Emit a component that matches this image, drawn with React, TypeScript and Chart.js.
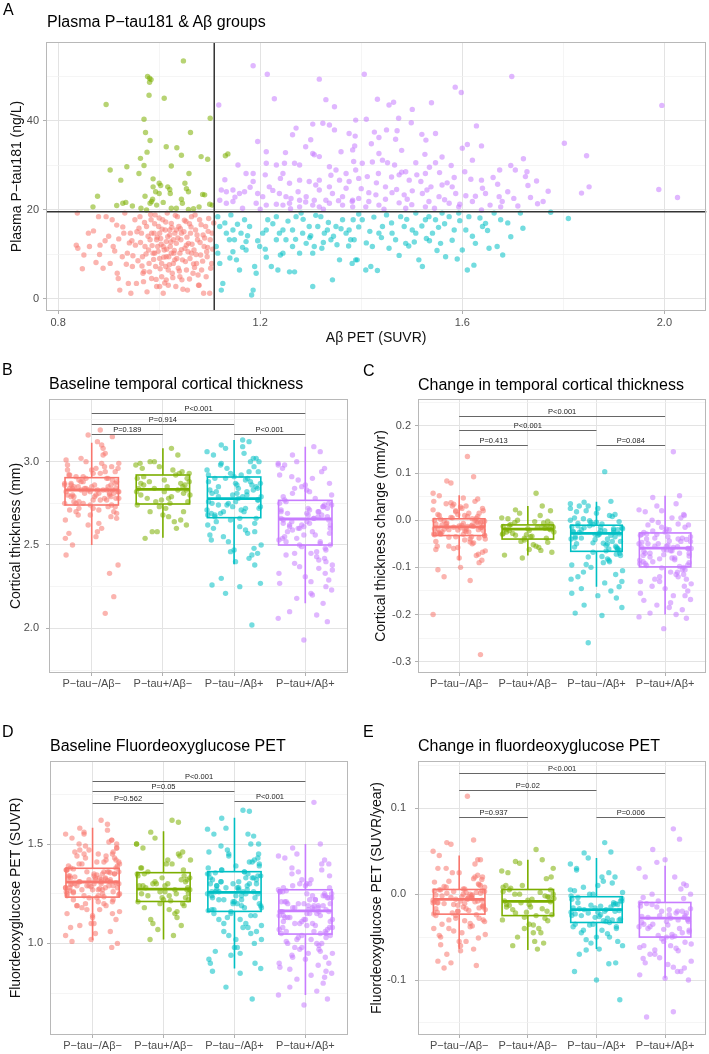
import React, { useEffect, useRef } from 'react';
import { Chart, registerables } from 'chart.js';

Chart.register(...registerables);

// ---------------- shared ----------------
const GROUPS = ['P−tau−/Aβ−', 'P−tau+/Aβ−', 'P−tau−/Aβ+', 'P−tau+/Aβ+'];
const COLORS = ['#F8766D', '#7CAE00', '#00BFC4', '#C77CFF'];
const POINT_ALPHA = 0.55;
const FONT = "'Liberation Sans', Arial, sans-serif";
const JITTER = [0.12, -0.27, 0.33, -0.05, 0.21, -0.36, 0.02, 0.29, -0.18, 0.37, -0.31, 0.08, -0.12, 0.25, -0.22, 0.16, -0.38, 0.31, -0.02, 0.19, -0.29, 0.06, 0.35, -0.15, 0.27, -0.34, 0.1, -0.08, 0.23, -0.25, 0.14, 0.38, -0.19, 0.04, -0.32, 0.28, -0.1, 0.18, -0.37, 0.0, 0.34];

// ---------------- Panel A data: [Aβ PET SUVR, P-tau181 ng/L] ----------------
const A_RED: number[][] = [
  [0.838, 19.3], [0.836, 12.1], [0.839, 11.4], [0.851, 9.9], [0.862, 11.8], [0.88, 18.5], [0.882, 10], [0.883, 12.1], [0.889, 6.9], [0.895, 18.5],
  [0.903, 8], [0.907, 17.8], [0.909, 11.8], [0.916, 16.6], [0.917, 5.8], [0.919, 4.6], [0.922, 2], [0.927, 9.5], [0.93, 14.8], [0.932, 19.3],
  [0.937, 10.3], [0.939, 3.5], [0.943, 14.8], [0.944, 1.3], [0.947, 7.3], [0.952, 17.8], [0.953, 12.1], [0.955, 3.5], [0.962, 18.5], [0.965, 14.8],
  [0.967, 9.5], [0.968, 5.8], [0.972, 11.8], [0.975, 16.3], [0.976, 1.6], [0.98, 8], [0.982, 13.3], [0.984, 17.8], [0.985, 4.6], [0.988, 10.3],
  [0.99, 14.8], [0.992, 18.9], [0.993, 7.3], [0.995, 2.8], [0.997, 11.8], [0.999, 16.3], [1.001, 9.1], [1.003, 13.6], [1.005, 5], [1.007, 17.8],
  [1.008, 1.3], [1.01, 11], [1.012, 15.5], [1.013, 7.3], [1.014, 12.9], [1.016, 19.3], [1.018, 3.1], [1.019, 9.5], [1.021, 14.4], [1.022, 11.8],
  [1.024, 17], [1.026, 5.8], [1.028, 8], [1.029, 10.3], [1.031, 14.8], [1.033, 2.8], [1.034, 12.5], [1.036, 18.5], [1.038, 6.9], [1.039, 16.3],
  [1.041, 10.3], [1.043, 13.3], [1.045, 4.3], [1.046, 8.8], [1.049, 15.1], [1.051, 11.4], [1.053, 17.4], [1.054, 6.5], [1.056, 2], [1.058, 12.5],
  [1.061, 9.1], [1.062, 14.8], [1.064, 18.5], [1.067, 5.8], [1.069, 11], [1.072, 15.5], [1.074, 8], [1.076, 13.3], [1.078, 3.1], [1.08, 17.8],
  [1.082, 9.9], [1.084, 6.5], [1.087, 14.4], [1.089, 11.8], [1.092, 16.3], [1.093, 5], [1.095, 9.5], [1.098, 18.1], [1.1, 1.3], [1.101, 13.3],
  [1.104, 8], [1.105, 14.8], [1.088, 1.3], [1.079, 3.1], [0.995, 13.3], [1.001, 14.8], [1.008, 11.8], [1.014, 9.5], [1.021, 15.5], [1.028, 13.3],
  [1.034, 15.5], [1.044, 14.8], [0.991, 10.3], [1.005, 8], [1.018, 6.5], [1.031, 8.8], [0.985, 14.8], [0.979, 11], [1.024, 10.3], [1.054, 12.1],
  [1.064, 10.3], [1.041, 5], [1.014, 4.3], [1.001, 2.8], [0.958, 8.6], [0.97, 6.2], [1.06, 16.9], [1.07, 7.1], [1.096, 11.6], [0.946, 13.1],
  [0.96, 15.9], [0.963, 12.7], [0.966, 7.4], [0.969, 3.9], [0.971, 17.2], [0.974, 10.1], [0.978, 14.1], [0.981, 6.1], [0.983, 19.0], [0.986, 12.0],
  [0.989, 8.9], [0.991, 16.9], [0.994, 4.4], [0.996, 13.9], [0.998, 10.7], [1.0, 18.2], [1.002, 6.8], [1.004, 12.3], [1.006, 15.7], [1.009, 9.4],
  [1.011, 3.6], [1.013, 17.3], [1.015, 11.2], [1.017, 14.0], [1.02, 7.7], [1.023, 12.8], [1.025, 16.1], [1.027, 4.8], [1.03, 10.9], [1.032, 18.8],
  [1.035, 9.1], [1.037, 13.7], [1.04, 6.3], [1.042, 15.8], [1.044, 11.1], [1.047, 2.2], [1.05, 17.7], [1.052, 8.4], [1.055, 13.9], [1.057, 10.6],
  [1.06, 4.5], [1.063, 16.2], [1.065, 12.3], [1.068, 7.9], [1.071, 18.9], [1.073, 10.0], [1.075, 14.4], [1.077, 5.4], [1.081, 12.7], [1.083, 16.7],
  [1.086, 8.5], [1.09, 13.7], [1.094, 10.6], [1.097, 15.2], [1.102, 6.9], [1.106, 11.2], [1.108, 17.1], [0.92, 13.5], [0.928, 16.2], [0.935, 7.8],
  [0.941, 12.6], [0.948, 9.7], [0.956, 15.1], [0.9, 14.1], [0.912, 10.8], [0.87, 15.3], [0.875, 8.2], [0.893, 13.1], [0.86, 14.8], [0.848, 6.8],
];
const A_GREEN: number[][] = [
  [1.048, 53.5], [0.977, 50], [0.981, 49.6], [0.984, 49.3], [0.981, 48.7], [0.895, 43.7], [1.01, 45.1], [0.98, 45.8], [1.101, 40.6], [0.97, 40.4],
  [0.973, 37.4], [1.062, 37.4], [0.982, 35.6], [1.014, 34.2], [1.035, 34], [1.136, 32.6], [1.131, 32.2], [0.976, 33], [1.044, 32.3], [1.083, 32],
  [1.096, 31.4], [0.963, 31.6], [1.024, 29.9], [0.936, 29.7], [0.903, 29], [0.97, 30], [1.059, 28.2], [0.96, 28.2], [0.924, 26.7], [0.988, 27],
  [1.0, 26], [1.003, 25.5], [1.017, 25.2], [1.051, 26], [0.988, 25.2], [0.993, 24.1], [1.021, 24.6], [1.022, 23.7], [1.054, 24.8], [1.058, 24.1],
  [0.878, 23.1], [0.972, 23.1], [1.0, 23.7], [0.987, 22.4], [1.044, 22.4], [1.046, 21.5], [1.086, 23.5], [1.09, 23.4], [0.928, 21.5], [0.934, 21.7],
  [0.947, 20.9], [0.982, 21.5], [0.985, 21.9], [0.995, 21.1], [1.008, 21.7], [1.024, 20.4], [1.034, 20.4], [1.058, 20.1], [1.068, 20.3], [1.1, 21.3],
  [1.105, 21.1], [0.869, 20.7], [0.916, 21], [0.964, 20.4], [0.975, 20], [1.079, 20.7],
];
const A_CYAN: number[][] = [
  [1.116, 18.5], [1.12, 16.3], [1.113, 11.8], [1.116, 10.3], [1.12, 8], [1.126, 3.5], [1.123, 2], [1.133, 14.8], [1.139, 13.3], [1.146, 10.6],
  [1.149, 13.3], [1.153, 8.8], [1.159, 6.5], [1.162, 14.8], [1.169, 17.8], [1.172, 11], [1.186, 2], [1.183, 0.9], [1.189, 7.3], [1.192, 5.8],
  [1.199, 11.8], [1.205, 14.8], [1.212, 15.5], [1.215, 17.8], [1.222, 7.3], [1.232, 18.5], [1.235, 6.5], [1.238, 14.8], [1.245, 15.5], [1.251, 13.3],
  [1.258, 6.1], [1.264, 15.5], [1.268, 6.1], [1.271, 18.5], [1.281, 19.3], [1.284, 14.8], [1.291, 12.5], [1.297, 16.3], [1.304, 2.8], [1.307, 11.8],
  [1.314, 16.3], [1.32, 18.5], [1.327, 14.8], [1.333, 15.5], [1.34, 13.3], [1.343, 4.3], [1.35, 16.3], [1.357, 8.8], [1.363, 17.8], [1.37, 14.8],
  [1.376, 15.5], [1.386, 13.3], [1.389, 8.8], [1.304, 10.3], [1.278, 10.3], [1.245, 10.3], [1.264, 11.8], [1.232, 13.3], [1.146, 15.5], [1.179, 16.3],
  [1.384, 17.8], [1.379, 13.3], [1.382, 8], [1.392, 8.8], [1.402, 17.8], [1.409, 6.5], [1.419, 7.3], [1.432, 6.4], [1.422, 11.8], [1.435, 14.8],
  [1.442, 16.3], [1.455, 11.4], [1.461, 14.8], [1.468, 13.3], [1.478, 18.5], [1.485, 16.3], [1.488, 12.5], [1.501, 15.5], [1.508, 14.8], [1.514, 8.8],
  [1.521, 7.3], [1.527, 17.8], [1.534, 18.5], [1.541, 14.8], [1.547, 17.8], [1.557, 12.5], [1.567, 9.5], [1.574, 18.5], [1.584, 15.5], [1.6, 11],
  [1.607, 15.5], [1.61, 6.5], [1.623, 7.6], [1.626, 12.5], [1.613, 18.5], [1.64, 16.3], [1.646, 17], [1.653, 11.4], [1.669, 11.8], [1.676, 17.8],
  [1.696, 14], [1.715, 19.3], [1.775, 19.5], [1.81, 18.1], [1.663, 19.3], [1.593, 19.3], [1.56, 19.3], [1.508, 19.3], [1.395, 19.1], [1.45, 18.9],
  [1.352, 12.2], [1.322, 11.4], [1.298, 13.8], [1.212, 9.4], [1.172, 12.9], [1.142, 18.9], [1.417, 15.2], [1.494, 11.9], [1.529, 13.6], [1.553, 16.1],
  [1.13, 17.1], [1.14, 9.2], [1.155, 16.8], [1.165, 11.6], [1.175, 14.2], [1.195, 13.1], [1.21, 11.2], [1.225, 16.9], [1.24, 9.9], [1.255, 17.5],
  [1.27, 13.4], [1.285, 17.9], [1.3, 14.2], [1.31, 18.8], [1.325, 12.7], [1.335, 17.2], [1.345, 14.1], [1.36, 15.8], [1.375, 11.9], [1.395, 16.2],
  [1.41, 12.6], [1.425, 18.4], [1.44, 13.8], [1.46, 17.1], [1.475, 9.8], [1.49, 17.9], [1.505, 12.8], [1.52, 16.4], [1.535, 13.1], [1.55, 10.9],
  [1.565, 16.9], [1.58, 13.2], [1.595, 17.6], [1.62, 14.1], [1.635, 18.2], [1.65, 15.4], [1.69, 17.1], [1.72, 15.9], [1.68, 9.9], [1.59, 9.0],
];
const A_PURPLE: number[][] = [
  [1.118, 43.6], [1.186, 52.4], [1.214, 50.5], [1.228, 45], [1.317, 49.4], [1.347, 43.2], [1.271, 38.4], [1.304, 39.3], [1.324, 39.5], [1.337, 39.1],
  [1.347, 38], [1.264, 36.9], [1.29, 34.2], [1.304, 32.7], [1.307, 32.4], [1.317, 32], [1.212, 33.1], [1.212, 30.5], [1.232, 30.1], [1.248, 30.5],
  [1.268, 30.5], [1.278, 30.1], [1.337, 29.7], [1.35, 29], [1.37, 28.2], [1.172, 28.2], [1.186, 28.2], [1.21, 27.9], [1.245, 28.2], [1.278, 26.7],
  [1.297, 26.4], [1.317, 26.7], [1.337, 25.2], [1.357, 26.7], [1.376, 26.4], [1.123, 24.5], [1.133, 24.1], [1.146, 24.5], [1.159, 23.7], [1.169, 24.1],
  [1.195, 23.7], [1.205, 23], [1.218, 25.2], [1.238, 23.7], [1.251, 23], [1.261, 22.6], [1.278, 22.2], [1.291, 23], [1.307, 22.2], [1.317, 24.5],
  [1.33, 22.2], [1.343, 23.7], [1.363, 23], [1.383, 22.2], [1.12, 22.2], [1.133, 21.5], [1.146, 21.9], [1.192, 21.5], [1.212, 21.1], [1.232, 21.3],
  [1.245, 21.1], [1.258, 21.5], [1.278, 20.7], [1.304, 21.1], [1.317, 20.7], [1.337, 21.5], [1.363, 21.1], [1.383, 20.7], [1.156, 30.1], [1.186, 26.4],
  [1.258, 26], [1.383, 33.5], [1.376, 37.2], [1.389, 40.2], [1.406, 50.5], [1.432, 44.9], [1.455, 43.6], [1.464, 44.2], [1.501, 42.6], [1.539, 44.1],
  [1.586, 47.6], [1.598, 46.4], [1.698, 50], [1.995, 43.5], [1.41, 40.4], [1.474, 40.6], [1.499, 39.6], [1.471, 37.8], [1.45, 38], [1.426, 37.5],
  [1.388, 36.6], [1.52, 37], [1.528, 35.7], [1.547, 37.2], [1.628, 38.9], [1.6, 33.9], [1.61, 34.7], [1.638, 34.4], [1.802, 35], [1.846, 32.2],
  [1.387, 34.4], [1.435, 36.3], [1.435, 32.7], [1.468, 35.9], [1.526, 32.5], [1.721, 31.5], [1.696, 30], [1.705, 29], [1.728, 28.6], [1.725, 27.5],
  [1.674, 29], [1.661, 27.3], [1.73, 25.5], [1.747, 26.5], [1.836, 23.8], [1.851, 25.2], [1.989, 24.6], [2.026, 22.8], [1.76, 21.9], [1.749, 21.4],
  [1.702, 22.6], [1.679, 21.9], [1.673, 23], [1.646, 23.7], [1.638, 26.7], [1.626, 23.1], [1.617, 26.9], [1.607, 23.2], [1.584, 27.3], [1.578, 30],
  [1.547, 30.6], [1.535, 29.6], [1.527, 28.2], [1.508, 30.6], [1.488, 28.6], [1.48, 28.5], [1.466, 30.1], [1.452, 30.6], [1.442, 31.2], [1.422, 30.8],
  [1.402, 30.5], [1.389, 29], [1.395, 27.1], [1.412, 27.5], [1.434, 28.2], [1.448, 25.2], [1.475, 27.9], [1.495, 26.7], [1.518, 26.4], [1.538, 25.2],
  [1.56, 25.6], [1.57, 26.1], [1.587, 23.7], [1.574, 21.5], [1.554, 23], [1.534, 21.9], [1.521, 23.7], [1.501, 24.3], [1.491, 22.4], [1.475, 21.6],
  [1.461, 23.9], [1.448, 22.4], [1.429, 23.4], [1.415, 23.9], [1.395, 22.6], [1.382, 21.9], [1.409, 20.7], [1.435, 21.1], [1.488, 20.4], [1.527, 20.7],
  [1.593, 20.7], [1.638, 20], [1.676, 20.7], [1.13, 26.8], [1.15, 22.9], [1.165, 20.4], [1.18, 25.1], [1.2, 20.2], [1.225, 24.4], [1.24, 27.1],
  [1.26, 20.3], [1.275, 24.1], [1.29, 21.8], [1.31, 25.6], [1.325, 20.2], [1.34, 27.8], [1.355, 22.1], [1.37, 24.9], [1.385, 30.9], [1.4, 24.8],
  [1.415, 21.9], [1.43, 26.1], [1.445, 20.2], [1.46, 27.4], [1.47, 24.6], [1.485, 23.4], [1.5, 21.2], [1.51, 27.9], [1.53, 24.5], [1.545, 20.4],
  [1.555, 28.4], [1.565, 22.3], [1.58, 25.2], [1.595, 21.3], [1.605, 28.6], [1.62, 21.9], [1.64, 24.9], [1.655, 21.1], [1.67, 25.8], [1.69, 24.1],
  [1.71, 20.9], [1.735, 22.8], [1.77, 24.2], [1.25, 32.9], [1.3, 35.8], [1.36, 33.1], [1.42, 34.9], [1.48, 33.4], [1.56, 31.9], [1.62, 31.2],
  [1.195, 35.4], [1.33, 44.8],
];
const A_X_TICKS = [0.8, 1.2, 1.6, 2.0];
const A_X_LABELS = ['0.8', '1.2', '1.6', '2.0'];
const A_X_MINOR = [1.0, 1.4, 1.8];
const A_Y_TICKS = [0, 20, 40];
const A_Y_LABELS = ['0', '20', '40'];
const A_Y_MINOR = [10, 30, 50];
const A_AB_CUTOFF = 1.109;
const A_PTAU_CUTOFF = 19.6;

// ---------------- Panel B: baseline temporal cortical thickness (mm) ----------------
const B_RED = [3.19, 2.84, 2.73, 3.16, 2.9, 2.82, 2.72, 3.15, 2.89, 2.82, 2.71, 3.12, 2.88, 2.81, 2.7, 3.08, 2.87, 2.81, 2.68, 3.05, 2.87, 2.8, 2.66, 3.02, 2.86, 2.8, 2.63, 3.0, 2.85, 2.79, 2.6, 2.99, 2.85, 2.79, 2.57, 2.97, 2.84, 2.78, 2.54, 2.95, 2.84, 2.77, 2.5, 2.94, 2.83, 2.77, 2.44, 2.93, 2.83, 2.76, 2.38, 2.92, 2.83, 2.75, 2.33, 2.91, 2.83, 2.75, 2.19, 2.74, 2.09, 2.86, 2.96, 2.69,
  2.88, 2.79, 2.95, 2.71, 2.84, 2.9, 2.76, 2.99, 2.82, 2.68, 2.86, 2.92, 2.74, 2.81, 2.97, 2.65, 2.85, 2.78, 2.93, 2.8, 2.87, 2.62, 2.83, 3.01, 2.77, 2.89, 2.72, 2.96, 2.84, 2.58, 2.91, 2.8, 2.75, 3.04, 2.86, 2.7, 2.82, 2.94, 2.79, 2.55, 2.88, 2.83, 2.67, 2.98, 2.81, 2.9, 2.73, 2.85, 3.1, 2.78];
const B_GREEN = [3.08, 2.91, 2.83, 2.73, 3.04, 2.9, 2.82, 2.7, 3.0, 2.88, 2.8, 2.67, 3.0, 2.87, 2.78, 2.64, 2.98, 2.86, 2.77, 2.6, 2.96, 2.85, 2.76, 2.58, 2.94, 2.84, 2.75, 2.58, 2.93, 2.54,
  2.95, 2.8, 2.88, 2.72, 2.99, 2.85, 2.76, 2.92, 2.82, 2.68, 2.9, 2.79, 2.86, 2.62, 2.97, 2.83, 2.74, 2.89, 2.81, 2.7, 2.93, 2.87, 2.78, 2.84, 2.65];
const B_CYAN = [3.13, 2.9, 2.77, 2.65, 3.12, 2.88, 2.76, 2.63, 3.1, 2.87, 2.75, 2.61, 3.08, 2.86, 2.74, 2.59, 3.06, 2.85, 2.73, 2.57, 3.04, 2.84, 2.72, 2.55, 3.02, 2.83, 2.71, 2.52, 3.0, 2.82, 2.7, 2.5, 2.98, 2.81, 2.69, 2.48, 2.96, 2.8, 2.68, 2.47, 2.94, 2.79, 2.67, 2.45, 2.93, 2.42, 2.92, 2.4, 2.38, 2.3, 2.27, 2.26, 2.25, 2.21, 2.02,
  2.85, 2.72, 2.95, 2.66, 2.8, 2.9, 2.6, 2.78, 3.0, 2.7, 2.83, 2.56, 2.92, 2.75, 2.88, 2.64, 3.05, 2.79, 2.69, 2.86, 2.53, 2.97, 2.74, 2.82, 2.62, 2.91, 2.77, 3.09, 2.68, 2.84, 2.46, 2.94, 2.76, 2.87, 2.58, 2.99, 2.73, 2.81, 2.66, 2.9, 2.44, 2.79, 2.89, 2.71, 3.02];
const B_PURPLE = [3.09, 2.76, 2.65, 2.49, 3.06, 2.75, 2.64, 2.47, 3.04, 2.74, 2.63, 2.45, 3.0, 2.73, 2.62, 2.43, 2.99, 2.72, 2.61, 2.41, 2.98, 2.71, 2.6, 2.39, 2.96, 2.7, 2.58, 2.37, 2.94, 2.69, 2.56, 2.35, 2.91, 2.68, 2.54, 2.33, 2.89, 2.67, 2.53, 2.31, 2.87, 2.66, 2.52, 2.29, 2.85, 2.51, 2.27, 2.83, 2.25, 2.81, 2.23, 2.79, 2.21, 2.18, 2.15, 2.1, 2.08, 2.06, 2.04, 1.93,
  2.7, 2.55, 2.82, 2.62, 2.45, 2.74, 2.66, 2.9, 2.5, 2.68, 2.58, 2.78, 2.38, 2.64, 2.72, 2.96, 2.48, 2.6, 2.7, 2.33, 2.86, 2.57, 2.66, 2.44, 2.75, 2.62, 2.52, 2.92, 2.69, 2.4, 2.59, 2.8, 2.65, 2.28, 2.54, 2.73, 2.61, 2.46, 2.98, 2.67, 2.56, 2.36, 2.77, 2.63, 2.5, 2.84, 2.42, 2.71, 2.2, 2.6];
const B_BOX = [[2.5, 2.74, 2.83, 2.904, 3.114], [2.544, 2.746, 2.834, 2.92, 3.08], [2.384, 2.664, 2.778, 2.908, 3.13], [2.15, 2.5, 2.656, 2.768, 3.09]];
const B_SIG = [{ from: 1, to: 4, y: 3.292, label: 'P<0.001' }, { from: 1, to: 3, y: 3.228, label: 'P=0.914' }, { from: 1, to: 2, y: 3.168, label: 'P=0.189' }, { from: 3, to: 4, y: 3.168, label: 'P<0.001' }];
const B_Y_TICKS = [2.0, 2.5, 3.0];
const B_Y_LABELS = ['2.0', '2.5', '3.0'];
const B_Y_MINOR = [1.75, 2.25, 2.75, 3.25];

// ---------------- Panel C: change in temporal cortical thickness (mm/yr) ----------------
const C_RED = [0.135, 0.002, -0.015, -0.035, 0.092, 0.0, -0.016, -0.038, 0.083, -0.002, -0.018, -0.042, 0.079, -0.004, -0.019, -0.046, 0.057, -0.005, -0.021, -0.05, 0.052, -0.007, -0.022, -0.055, 0.045, -0.008, -0.024, -0.06, 0.04, -0.01, -0.025, -0.065, 0.035, -0.011, -0.027, -0.072, 0.03, -0.012, -0.029, -0.08, 0.025, -0.013, -0.03, -0.085, 0.02, -0.013, -0.031, -0.1, 0.015, -0.014, -0.032, -0.105, 0.01, 0.006, 0.004, -0.12, -0.128, -0.2, -0.285, 0.012,
  -0.01, 0.01, -0.03, 0.02, -0.02, -0.005, -0.045, 0.03, -0.015, 0.0, -0.025, 0.015, -0.04, -0.008, 0.025, -0.055, -0.02, 0.005, -0.035, 0.04, -0.012, -0.068, 0.008, -0.028, -0.003, 0.018, -0.048, -0.018, 0.028, -0.09, -0.006, -0.033, 0.012, -0.022, 0.037, -0.075, -0.001, -0.04, 0.022, -0.016, -0.058, 0.003, -0.027, 0.047, -0.011, -0.036, 0.008, -0.062, -0.019, 0.034];
const C_GREEN = [0.057, -0.011, -0.02, -0.042, 0.03, -0.013, -0.022, -0.047, 0.022, -0.015, -0.025, -0.052, 0.015, -0.017, -0.028, -0.058, 0.005, -0.018, -0.031, -0.064, 0.003, -0.034, -0.068, 0.0, -0.038, -0.074, -0.003, -0.08, -0.006, -0.009,
  -0.015, -0.025, -0.005, -0.035, -0.02, -0.012, -0.045, 0.01, -0.03, -0.018, -0.008, -0.055, -0.022, 0.02, -0.038, -0.014, -0.028, -0.062, -0.002, -0.032];
const C_CYAN = [0.103, -0.012, -0.029, -0.068, 0.04, -0.014, -0.032, -0.072, 0.038, -0.016, -0.035, -0.077, 0.03, -0.018, -0.038, -0.082, 0.025, -0.02, -0.041, -0.088, 0.018, -0.022, -0.045, -0.094, 0.012, -0.024, -0.049, -0.1, 0.008, -0.026, -0.053, -0.107, 0.003, -0.027, -0.057, -0.115, -0.001, -0.061, -0.125, -0.004, -0.064, -0.133, -0.007, -0.141, -0.009, -0.15, -0.155, -0.16, -0.165, -0.18, -0.185, -0.197, -0.202, -0.26, -0.021,
  -0.02, -0.04, 0.0, -0.06, -0.03, 0.01, -0.05, -0.015, -0.075, 0.02, -0.035, -0.025, -0.09, -0.005, -0.045, 0.03, -0.065, -0.018, -0.11, -0.03, 0.005, -0.055, -0.012, -0.085, -0.04, 0.015, -0.07, -0.022, -0.12, -0.003, -0.048, -0.032, -0.095, 0.025, -0.058, -0.016, -0.13, -0.038, -0.008, -0.078, -0.026, -0.145, -0.05, 0.035, -0.062];
const C_PURPLE = [0.145, -0.029, -0.06, -0.101, 0.052, -0.032, -0.063, -0.105, 0.048, -0.035, -0.066, -0.11, 0.03, -0.038, -0.07, -0.115, 0.022, -0.041, -0.073, -0.12, 0.018, -0.044, -0.076, -0.125, 0.012, -0.047, -0.08, -0.13, 0.005, -0.05, -0.084, -0.135, 0.0, -0.053, -0.088, -0.14, -0.005, -0.056, -0.092, -0.145, -0.01, -0.058, -0.096, -0.15, -0.015, -0.098, -0.155, -0.019, -0.16, -0.023, -0.168, -0.026, -0.175, -0.18, -0.19, -0.197, -0.2, -0.205, -0.208, -0.23,
  -0.04, -0.07, -0.02, -0.09, -0.055, -0.1, -0.03, -0.065, -0.12, -0.045, -0.01, -0.08, -0.06, -0.14, -0.035, -0.075, 0.01, -0.05, -0.11, -0.085, -0.025, -0.06, -0.16, -0.04, -0.095, 0.02, -0.07, -0.13, -0.055, -0.015, -0.088, -0.045, -0.17, -0.065, -0.03, -0.105, -0.078, 0.035, -0.05, -0.125, -0.062, -0.008, -0.092, -0.185, -0.07, -0.038, -0.115, -0.058, 0.005, -0.082];
const C_BOX = [[-0.085, -0.0325, -0.014, 0.003, 0.053], [-0.075, -0.04, -0.019, -0.01, 0.03], [-0.141, -0.066, -0.028, -0.0106, 0.039], [-0.2, -0.099, -0.059, -0.027, 0.052]];
const C_SIG = [{ from: 1, to: 4, y: 0.221, label: 'P<0.001' }, { from: 1, to: 3, y: 0.191, label: 'P<0.001' }, { from: 1, to: 2, y: 0.16, label: 'P=0.413' }, { from: 3, to: 4, y: 0.16, label: 'P=0.084' }];
const C_Y_TICKS = [-0.3, -0.2, -0.1, 0.0, 0.1, 0.2];
const C_Y_LABELS = ['-0.3', '-0.2', '-0.1', '0.0', '0.1', '0.2'];
const C_Y_MINOR = [-0.25, -0.15, -0.05, 0.05, 0.15, 0.25];

// ---------------- Panel D: baseline FDG PET (SUVR) ----------------
const D_RED = [1.62, 1.375, 1.305, 1.23, 1.6, 1.37, 1.3, 1.22, 1.58, 1.36, 1.295, 1.21, 1.56, 1.355, 1.29, 1.2, 1.55, 1.35, 1.285, 1.19, 1.53, 1.345, 1.28, 1.18, 1.52, 1.34, 1.275, 1.17, 1.51, 1.335, 1.27, 1.16, 1.5, 1.33, 1.265, 1.15, 1.49, 1.325, 1.26, 1.14, 1.48, 1.32, 1.255, 1.12, 1.47, 1.315, 1.25, 1.1, 1.46, 1.31, 1.245, 1.08, 1.45, 1.24, 1.06, 1.44, 1.235, 1.04, 1.43, 1.02, 1.42, 1.01, 1.41, 1.0, 1.4, 0.98, 1.39, 1.33, 1.29, 1.36,
  1.3, 1.35, 1.25, 1.4, 1.32, 1.28, 1.45, 1.2, 1.33, 1.37, 1.27, 1.5, 1.31, 1.22, 1.42, 1.29, 1.36, 1.15, 1.34, 1.26, 1.47, 1.3, 1.38, 1.24, 1.55, 1.32, 1.19, 1.41, 1.28, 1.35, 1.1, 1.44, 1.3, 1.23, 1.39, 1.27, 1.52, 1.33, 1.17, 1.36, 1.29, 1.46, 1.25, 1.4, 1.31, 1.05, 1.34, 1.21, 1.43, 1.28, 1.37, 1.13, 1.48, 1.3, 1.26, 1.38, 1.32, 1.57, 1.24, 1.35, 1.29, 1.09, 1.41, 1.33, 1.27, 1.45, 1.31, 1.19, 1.36, 1.28];
const D_GREEN = [1.62, 1.35, 1.27, 1.2, 1.61, 1.34, 1.26, 1.19, 1.56, 1.33, 1.25, 1.17, 1.53, 1.32, 1.24, 1.15, 1.5, 1.31, 1.23, 1.13, 1.48, 1.3, 1.22, 1.1, 1.46, 1.29, 1.215, 1.07, 1.44, 1.28, 1.04, 1.42, 1.02, 1.4, 1.38, 1.37,
  1.3, 1.25, 1.35, 1.22, 1.28, 1.4, 1.18, 1.32, 1.26, 1.45, 1.21, 1.29, 1.34, 1.12, 1.27, 1.38, 1.24, 1.31, 1.09, 1.36, 1.27, 1.5, 1.23, 1.33, 1.16, 1.29, 1.42, 1.25, 1.3, 1.2];
const D_CYAN = [1.67, 1.355, 1.25, 1.15, 1.665, 1.35, 1.24, 1.14, 1.63, 1.34, 1.23, 1.12, 1.58, 1.33, 1.22, 1.1, 1.575, 1.32, 1.21, 1.08, 1.55, 1.31, 1.2, 1.06, 1.54, 1.3, 1.19, 1.04, 1.5, 1.29, 1.18, 1.02, 1.49, 1.28, 1.17, 1.0, 1.47, 1.27, 1.165, 0.98, 1.45, 1.26, 0.96, 1.43, 0.94, 1.41, 0.92, 1.39, 0.9, 1.37, 0.874, 0.86, 0.85, 0.78, 0.72, 1.26, 1.33,
  1.25, 1.3, 1.2, 1.35, 1.15, 1.28, 1.4, 1.1, 1.26, 1.33, 1.22, 1.45, 1.05, 1.27, 1.36, 1.18, 1.31, 0.98, 1.24, 1.42, 1.13, 1.29, 1.38, 1.21, 1.5, 1.08, 1.26, 1.34, 1.16, 1.3, 1.46, 1.02, 1.23, 1.37, 1.19, 1.32, 0.95, 1.28, 1.41, 1.12, 1.25, 1.35, 1.06, 1.3, 1.55, 1.17, 1.27, 1.39, 1.22, 1.33, 0.9, 1.24, 1.44, 1.14, 1.29, 1.36, 1.09, 1.31, 1.2, 1.26];
const D_PURPLE = [1.71, 1.265, 1.16, 1.04, 1.5, 1.26, 1.15, 1.03, 1.48, 1.25, 1.14, 1.02, 1.45, 1.24, 1.13, 1.0, 1.44, 1.23, 1.12, 0.99, 1.43, 1.22, 1.11, 0.98, 1.42, 1.21, 1.1, 0.97, 1.4, 1.2, 1.09, 0.95, 1.38, 1.19, 1.08, 0.93, 1.36, 1.18, 1.07, 0.92, 1.34, 1.17, 1.06, 0.9, 1.32, 1.05, 0.88, 1.3, 0.86, 1.29, 0.85, 1.28, 0.84, 0.82, 0.8, 0.78, 0.76, 0.74, 0.72, 0.69, 1.16, 1.21,
  1.15, 1.2, 1.1, 1.25, 1.05, 1.18, 1.3, 1.0, 1.13, 1.22, 1.08, 1.35, 0.95, 1.16, 1.24, 1.03, 1.19, 0.9, 1.12, 1.28, 1.06, 1.21, 1.4, 0.98, 1.14, 1.26, 1.09, 1.17, 0.93, 1.23, 1.11, 1.32, 1.02, 1.19, 0.87, 1.15, 1.27, 1.07, 1.2, 0.97, 1.13, 1.3, 1.04, 1.18, 0.83, 1.16, 1.24, 1.1, 1.37, 1.0, 1.22, 1.12, 0.94, 1.17, 1.26, 1.06, 1.2, 0.89, 1.14, 1.29, 1.08, 1.19, 1.01, 1.23, 1.11, 0.96, 1.16, 1.25, 1.05, 1.18];
const D_BOX = [[1.017, 1.233, 1.309, 1.378, 1.582], [1.02, 1.211, 1.273, 1.356, 1.565], [0.874, 1.161, 1.257, 1.361, 1.633], [0.74, 1.047, 1.164, 1.27, 1.5]];
const D_SIG = [{ from: 1, to: 4, y: 1.817, label: 'P<0.001' }, { from: 1, to: 3, y: 1.767, label: 'P=0.05' }, { from: 1, to: 2, y: 1.705, label: 'P=0.562' }, { from: 3, to: 4, y: 1.715, label: 'P<0.001' }];
const D_Y_TICKS = [1.0, 1.5];
const D_Y_LABELS = ['1.0', '1.5'];
const D_Y_MINOR = [0.75, 1.25, 1.75];

// ---------------- Panel E: change in FDG PET (SUVR/year) ----------------
const E_RED = [0.114, 0.005, -0.007, -0.025, 0.063, 0.004, -0.008, -0.028, 0.06, 0.003, -0.01, -0.031, 0.058, 0.002, -0.011, -0.034, 0.05, 0.001, -0.013, -0.037, 0.045, 0.0, -0.015, -0.04, 0.04, -0.001, -0.017, -0.043, 0.035, -0.002, -0.019, -0.047, 0.03, -0.003, -0.021, -0.051, 0.025, -0.004, -0.023, -0.055, 0.02, -0.005, -0.059, 0.017, -0.006, -0.064, 0.014, -0.066, 0.011, -0.07, 0.008, -0.078, 0.006, -0.08, -0.083, -0.086,
  0.0, -0.01, 0.01, -0.02, -0.005, 0.005, -0.015, -0.03, 0.015, -0.008, -0.025, 0.002, -0.012, 0.02, -0.035, -0.003, -0.018, 0.008, -0.045, -0.01, 0.012, -0.022, -0.002, -0.04, 0.025, -0.014, -0.006, -0.05, 0.004, -0.028, 0.018, -0.009, -0.06, -0.016, 0.001, -0.032, 0.03, -0.011, -0.004, -0.024, 0.009, -0.038, -0.007, 0.04, -0.02, -0.001, -0.048, 0.006, -0.013, -0.03, 0.022, -0.017, -0.055, 0.003, -0.009];
const E_GREEN = [0.052, 0.005, -0.009, -0.027, 0.04, 0.003, -0.012, -0.031, 0.038, 0.0, -0.015, -0.036, 0.036, -0.002, -0.018, -0.04, 0.027, -0.004, -0.021, -0.045, 0.025, -0.006, -0.024, -0.05, 0.018, -0.008, -0.055, 0.01, -0.057, 0.007, -0.064,
  -0.005, 0.0, -0.015, 0.01, -0.02, -0.01, 0.002, -0.03, -0.007, 0.02, -0.025, -0.013, 0.005, -0.04, -0.017, 0.008, -0.035, -0.003, -0.022, 0.03, -0.012, -0.045, 0.0, -0.028, -0.06];
const E_CYAN = [0.06, -0.004, -0.019, -0.035, 0.049, -0.006, -0.021, -0.038, 0.048, -0.008, -0.023, -0.042, 0.042, -0.01, -0.025, -0.046, 0.035, -0.012, -0.027, -0.05, 0.028, -0.014, -0.029, -0.053, 0.02, -0.016, -0.031, -0.057, 0.013, -0.017, -0.032, -0.06, 0.008, -0.064, 0.004, -0.08, 0.0, -0.081, -0.002, -0.1, -0.123,
  -0.02, -0.01, -0.03, 0.0, -0.015, -0.025, 0.01, -0.04, -0.018, -0.005, -0.035, 0.02, -0.022, -0.012, -0.045, -0.028, 0.005, -0.055, -0.016, -0.033, 0.03, -0.024, -0.008, -0.065, -0.02, -0.038, 0.015, -0.013, -0.03, -0.07, -0.018, 0.002, -0.042, -0.026, -0.09, -0.011, -0.036, 0.025, -0.021, -0.05];
const E_PURPLE = [0.076, -0.011, -0.029, -0.052, 0.064, -0.014, -0.032, -0.056, 0.052, -0.017, -0.035, -0.06, 0.037, -0.02, -0.038, -0.063, 0.03, -0.022, -0.041, -0.066, 0.02, -0.024, -0.044, -0.07, 0.012, -0.026, -0.047, -0.074, 0.006, -0.027, -0.049, -0.078, 0.0, -0.082, -0.004, -0.086, -0.008, -0.09, -0.094, -0.098, -0.1, -0.137, -0.143,
  -0.03, -0.02, -0.04, -0.01, -0.05, -0.025, -0.035, 0.0, -0.06, -0.028, -0.015, -0.045, -0.07, -0.022, -0.038, 0.01, -0.055, -0.03, -0.08, -0.018, -0.042, -0.065, -0.005, -0.033, -0.05, -0.025, -0.09, -0.04, 0.02, -0.058, -0.012, -0.036, -0.075, -0.027, -0.048, -0.02, -0.062, 0.04, -0.032, -0.085];
const E_BOX = [[-0.064, -0.0233, -0.0062, 0.0054, 0.045], [-0.065, -0.025, -0.0085, 0.0054, 0.04], [-0.064, -0.033, -0.018, -0.003, 0.042], [-0.098, -0.05, -0.028, -0.0097, 0.033]];
const E_SIG = [{ from: 1, to: 4, y: 0.141, label: 'P<0.001' }, { from: 1, to: 3, y: 0.121, label: 'P=0.02' }, { from: 1, to: 2, y: 0.09, label: 'P=0.937' }, { from: 3, to: 4, y: 0.09, label: 'P=0.006' }];
const E_Y_TICKS = [-0.1, 0.0, 0.1];
const E_Y_LABELS = ['-0.1', '0.0', '0.1'];
const E_Y_MINOR = [-0.15, -0.05, 0.05, 0.15];

const BOX_X_TICKS = [1, 2, 3, 4];

// ---------------- helpers ----------------
const MAJOR_GRID = '#e3e3e3';
const MINOR_GRID = '#f0f0f0';
const TICK_COLOR = '#4d4d4d';
const TICK_MARK = '#b0b0b0';

function alpha(hex: string, a: number) {
  const n = parseInt(hex.slice(1), 16);
  return `rgba(${(n >> 16) & 255},${(n >> 8) & 255},${n & 255},${a})`;
}
const near = (arr: number[], v: number) => arr.some((m) => Math.abs(m - v) < 1e-9);

function axis(opts: {
  min: number; max: number; major: number[]; labels: string[]; minor: number[];
  size: number; horizontal: boolean; tickPad: number; title?: string; titlePad?: number;
}) {
  const { min, max, major, labels, minor, size, horizontal, tickPad, title, titlePad } = opts;
  return {
    type: 'linear',
    min, max,
    afterBuildTicks: (s: any) => {
      s.ticks = [...major, ...minor].sort((a, b) => a - b).map((v) => ({ value: v }));
    },
    afterFit: (s: any) => {
      if (horizontal) s.height = size; else s.width = size;
    },
    ticks: {
      autoSkip: false, maxRotation: 0, padding: tickPad, color: TICK_COLOR,
      font: { family: FONT, size: 11 },
      callback: (v: number) => {
        const i = major.findIndex((m) => Math.abs(m - v) < 1e-9);
        return i >= 0 ? labels[i] : '';
      },
    },
    grid: {
      drawTicks: true, tickLength: 3,
      color: (c: any) => (c.tick && near(minor, c.tick.value) ? MINOR_GRID : MAJOR_GRID),
      lineWidth: (c: any) => (c.tick && near(minor, c.tick.value) ? 0.7 : 1),
      tickColor: (c: any) => (c.tick && near(minor, c.tick.value) ? 'rgba(0,0,0,0)' : TICK_MARK),
    },
    border: { display: false },
    title: title
      ? { display: true, text: title, color: '#111', font: { family: FONT, size: 14 }, padding: horizontal ? { top: 0, bottom: titlePad } : { top: titlePad, bottom: 0 } }
      : { display: false },
  };
}

function decorPlugin(spec: { boxes?: number[][]; sigs?: { from: number; to: number; y: number; label: string }[]; vline?: number; hline?: number }) {
  return {
    id: 'decor',
    afterDatasetsDraw(chart: any) {
      const { ctx, chartArea: ca, scales } = chart;
      const x = scales.x, y = scales.y;
      ctx.save();
      if (spec.boxes) {
        spec.boxes.forEach((b, i) => {
          const [lo, q1, med, q3, hi] = b;
          const cx = x.getPixelForValue(i + 1);
          const l = x.getPixelForValue(i + 1 - 0.375);
          const r = x.getPixelForValue(i + 1 + 0.375);
          ctx.strokeStyle = COLORS[i];
          ctx.lineWidth = 1.6;
          ctx.beginPath();
          ctx.moveTo(cx, y.getPixelForValue(q3)); ctx.lineTo(cx, y.getPixelForValue(hi));
          ctx.moveTo(cx, y.getPixelForValue(q1)); ctx.lineTo(cx, y.getPixelForValue(lo));
          ctx.stroke();
          ctx.strokeRect(l, y.getPixelForValue(q3), r - l, y.getPixelForValue(q1) - y.getPixelForValue(q3));
          ctx.lineWidth = 2.8;
          ctx.beginPath();
          ctx.moveTo(l, y.getPixelForValue(med)); ctx.lineTo(r, y.getPixelForValue(med));
          ctx.stroke();
        });
      }
      if (spec.vline !== undefined || spec.hline !== undefined) {
        ctx.strokeStyle = '#333333';
        ctx.lineWidth = 1.5;
        ctx.beginPath();
        if (spec.vline !== undefined) {
          const px = x.getPixelForValue(spec.vline);
          ctx.moveTo(px, ca.top); ctx.lineTo(px, ca.bottom);
        }
        if (spec.hline !== undefined) {
          const py = y.getPixelForValue(spec.hline);
          ctx.moveTo(ca.left, py); ctx.lineTo(ca.right, py);
        }
        ctx.stroke();
      }
      if (spec.sigs) {
        ctx.font = `7.5px ${FONT}`;
        ctx.textAlign = 'center';
        ctx.textBaseline = 'bottom';
        spec.sigs.forEach((s) => {
          const x1 = x.getPixelForValue(s.from), x2 = x.getPixelForValue(s.to);
          const py = Math.round(y.getPixelForValue(s.y)) + 0.5;
          ctx.strokeStyle = '#666666';
          ctx.lineWidth = 1;
          ctx.beginPath(); ctx.moveTo(x1, py); ctx.lineTo(x2, py); ctx.stroke();
          ctx.fillStyle = '#222222';
          ctx.fillText(s.label, (x1 + x2) / 2, py - 1);
        });
      }
      ctx.strokeStyle = '#b8b8b8';
      ctx.lineWidth = 1;
      ctx.strokeRect(Math.round(ca.left) + 0.5, Math.round(ca.top) + 0.5, Math.round(ca.right - ca.left) - 1, Math.round(ca.bottom - ca.top) - 1);
      ctx.restore();
    },
  };
}

function scatterSet(points: number[][], color: string) {
  return {
    type: 'scatter',
    data: points.map((p) => ({ x: p[0], y: p[1] })),
    backgroundColor: alpha(color, POINT_ALPHA),
    borderWidth: 0,
    pointRadius: 2.7,
    pointHoverRadius: 2.7,
  };
}

function jitterSet(values: number[], group: number) {
  return scatterSet(values.map((v, i) => [group + 1 + JITTER[i % JITTER.length], v]), COLORS[group]);
}

function buildA() {
  return {
    type: 'scatter',
    data: { datasets: [scatterSet(A_RED, COLORS[0]), scatterSet(A_GREEN, COLORS[1]), scatterSet(A_CYAN, COLORS[2]), scatterSet(A_PURPLE, COLORS[3])] },
    options: {
      responsive: false, animation: false,
      layout: { padding: { left: 0, top: 42, right: 1, bottom: 0 } },
      plugins: { legend: { display: false }, tooltip: { enabled: false } },
      scales: {
        x: axis({ min: 0.776, max: 2.083, major: A_X_TICKS, labels: A_X_LABELS, minor: A_X_MINOR, size: 44, horizontal: true, tickPad: 2, title: 'Aβ PET (SUVR)', titlePad: 8 }),
        y: axis({ min: -2.7, max: 57.75, major: A_Y_TICKS, labels: A_Y_LABELS, minor: A_Y_MINOR, size: 46, horizontal: false, tickPad: 4, title: 'Plasma P−tau181 (ng/L)', titlePad: 9 }),
      },
    },
    plugins: [decorPlugin({ vline: A_AB_CUTOFF, hline: A_PTAU_CUTOFF })],
  };
}

function buildBox(p: {
  values: number[][]; boxes: number[][]; sigs: any[]; yMin: number; yMax: number;
  yTicks: number[]; yLabels: string[]; yMinor: number[]; yTitle: string; yWidth: number;
  yTitlePad: number; yTickPad: number; xHeight: number; top: number; right: number;
}) {
  return {
    type: 'scatter',
    data: { datasets: p.values.map((v, i) => jitterSet(v, i)) },
    options: {
      responsive: false, animation: false,
      layout: { padding: { left: 0, top: p.top, right: p.right, bottom: 0 } },
      plugins: { legend: { display: false }, tooltip: { enabled: false } },
      scales: {
        x: axis({ min: 0.4, max: 4.6, major: BOX_X_TICKS, labels: GROUPS, minor: [], size: p.xHeight, horizontal: true, tickPad: 1 }),
        y: axis({ min: p.yMin, max: p.yMax, major: p.yTicks, labels: p.yLabels, minor: p.yMinor, size: p.yWidth, horizontal: false, tickPad: p.yTickPad, title: p.yTitle, titlePad: p.yTitlePad }),
      },
    },
    plugins: [decorPlugin({ boxes: p.boxes, sigs: p.sigs })],
  };
}

function Panel({ left, top, width, height, build }: { left: number; top: number; width: number; height: number; build: () => any }) {
  const ref = useRef<HTMLCanvasElement>(null);
  useEffect(() => {
    const chart = new Chart(ref.current as HTMLCanvasElement, build());
    return () => chart.destroy();
  }, []);
  return <canvas ref={ref} width={width} height={height} style={{ position: 'absolute', left, top, width, height }} />;
}

function Label({ text, left, top, size = 16 }: { text: string; left: number; top: number; size?: number }) {
  return (
    <div style={{ position: 'absolute', left, top, fontFamily: FONT, fontSize: size, lineHeight: `${size}px`, color: '#000', whiteSpace: 'nowrap' }}>
      {text}
    </div>
  );
}

export default function App() {
  return (
    <div style={{ position: 'absolute', left: 0, top: 0, width: 709, height: 1054, background: '#fff', overflow: 'hidden' }}>
      <Panel left={0} top={0} width={709} height={355} build={buildA} />
      <Panel left={0} top={355} width={354} height={345} build={() => buildBox({ values: [B_RED, B_GREEN, B_CYAN, B_PURPLE], boxes: B_BOX, sigs: B_SIG, yMin: 1.732, yMax: 3.376, yTicks: B_Y_TICKS, yLabels: B_Y_LABELS, yMinor: B_Y_MINOR, yTitle: 'Cortical thickness (mm)', yWidth: 49, yTitlePad: 8, yTickPad: 7, xHeight: 27, top: 44, right: 6 })} />
      <Panel left={354} top={355} width={355} height={345} build={() => buildBox({ values: [C_RED, C_GREEN, C_CYAN, C_PURPLE], boxes: C_BOX, sigs: C_SIG, yMin: -0.324, yMax: 0.257, yTicks: C_Y_TICKS, yLabels: C_Y_LABELS, yMinor: C_Y_MINOR, yTitle: 'Cortical thickness change (mm/yr)', yWidth: 64, yTitlePad: 19, yTickPad: 4, xHeight: 27, top: 44, right: 1 })} />
      <Panel left={0} top={700} width={354} height={354} build={() => buildBox({ values: [D_RED, D_GREEN, D_CYAN, D_PURPLE], boxes: D_BOX, sigs: D_SIG, yMin: 0.539, yMax: 1.918, yTicks: D_Y_TICKS, yLabels: D_Y_LABELS, yMinor: D_Y_MINOR, yTitle: 'Fluordeoxyglucose PET (SUVR)', yWidth: 50, yTitlePad: 8, yTickPad: 4, xHeight: 19, top: 61, right: 6 })} />
      <Panel left={354} top={700} width={355} height={354} build={() => buildBox({ values: [E_RED, E_GREEN, E_CYAN, E_PURPLE], boxes: E_BOX, sigs: E_SIG, yMin: -0.164, yMax: 0.155, yTicks: E_Y_TICKS, yLabels: E_Y_LABELS, yMinor: E_Y_MINOR, yTitle: 'Fluordeoxyglucose PET (SUVR/year)', yWidth: 64, yTitlePad: 15, yTickPad: 9, xHeight: 19, top: 61, right: 1 })} />
      <Label text="A" left={3} top={1.5} />
      <Label text="Plasma P−tau181 & Aβ groups" left={47} top={14} />
      <Label text="B" left={2} top={361.5} />
      <Label text="Baseline temporal cortical thickness" left={49} top={376} />
      <Label text="C" left={363} top={362.5} />
      <Label text="Change in temporal cortical thickness" left={418} top={376.5} />
      <Label text="D" left={2} top={724} />
      <Label text="Baseline Fluordeoxyglucose PET" left={50} top={737.5} />
      <Label text="E" left={363} top={723.5} />
      <Label text="Change in fluordeoxyglucose PET" left={418} top={737.5} />
    </div>
  );
}
